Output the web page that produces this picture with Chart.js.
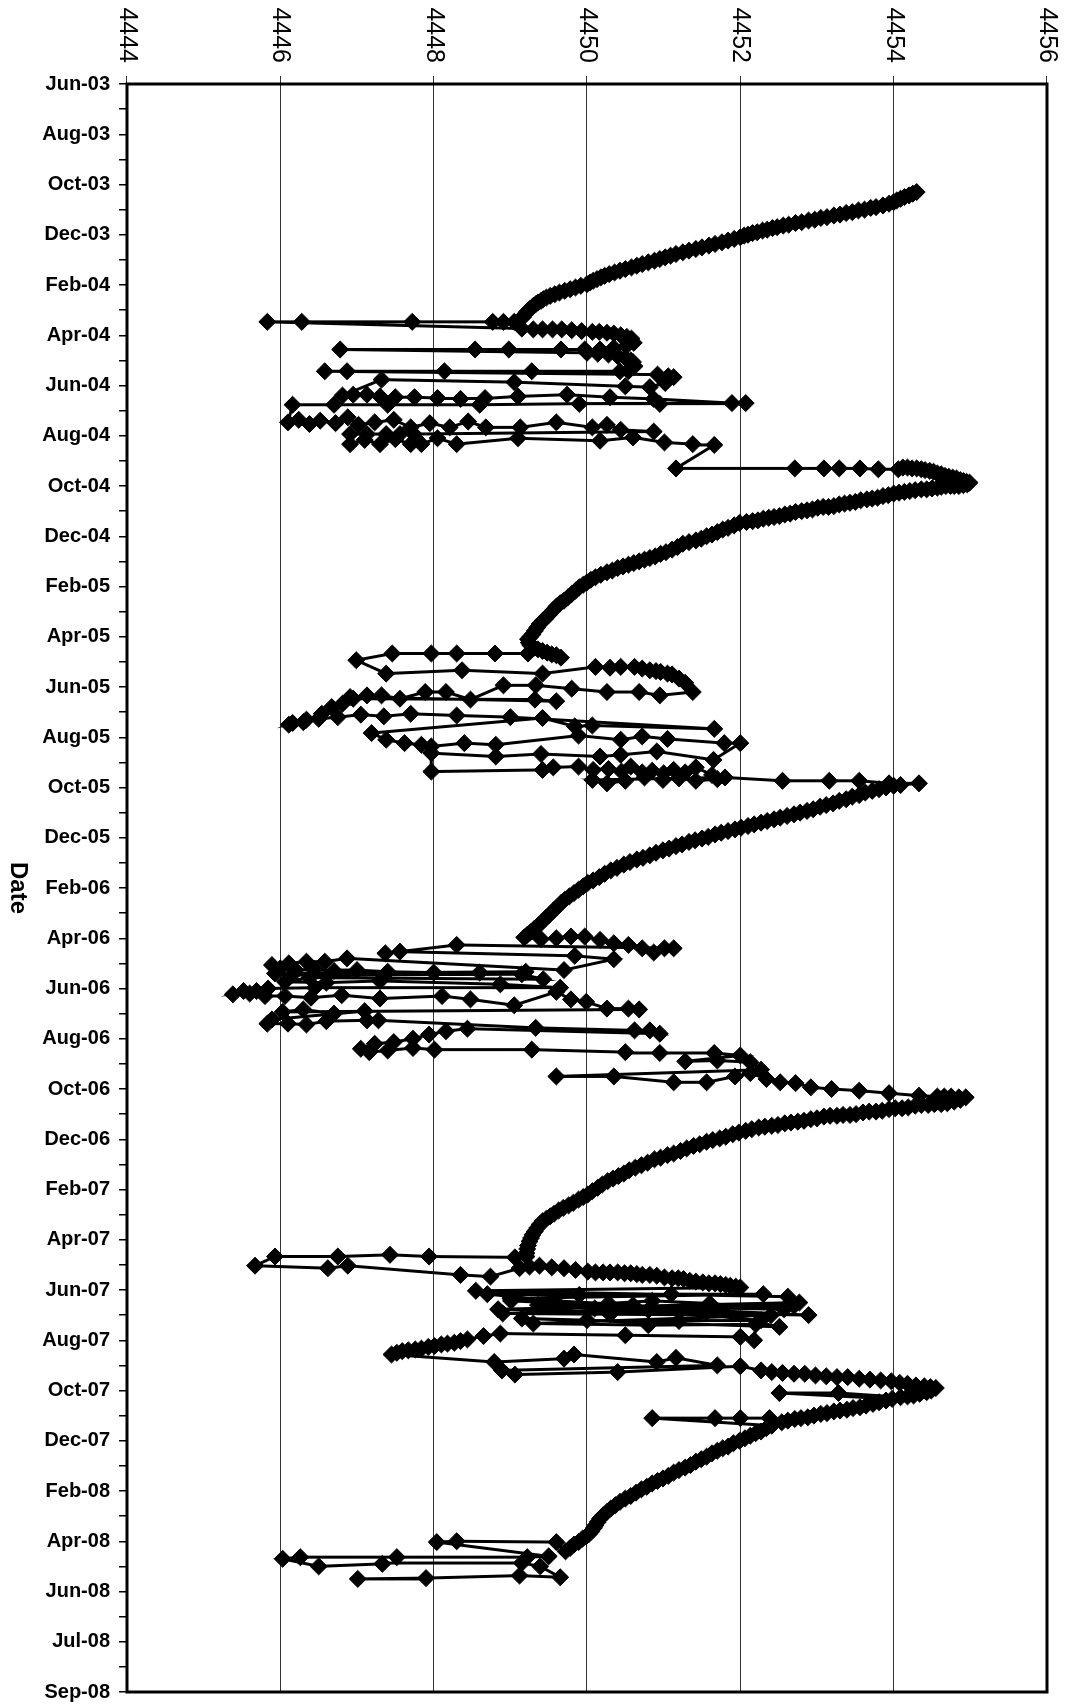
<!DOCTYPE html>
<html>
<head>
<meta charset="utf-8">
<title>Elevation by date</title>
<script src="https://cdn.jsdelivr.net/npm/chart.js"></script>
<style>
  html, body { margin: 0; padding: 0; background: #fff; overflow: hidden; }
  #wrap { position: relative; width: 1066px; height: 1706px; overflow: hidden; }
  /* the chart is laid out landscape and turned a quarter clockwise */
  #elevation-chart {
    position: absolute; left: 0; top: 0;
    width: 1706px; height: 1066px;
    transform-origin: 0 0;
    transform: translate(1066px, 0) rotate(90deg);
  }
</style>
</head>
<body>
<div id="wrap"><canvas id="elevation-chart" width="1706" height="1066"></canvas></div>
<script>
// Date axis: Excel serial days, labels every 60 days from 28 Jun 2003
const axisStartDay = 37800;
const axisEndDay = 39720;
const dateLabels = ['Jun-03', 'Aug-03', 'Oct-03', 'Dec-03', 'Feb-04', 'Apr-04', 'Jun-04', 'Aug-04',
  'Oct-04', 'Dec-04', 'Feb-05', 'Apr-05', 'Jun-05', 'Aug-05', 'Oct-05', 'Dec-05', 'Feb-06', 'Apr-06',
  'Jun-06', 'Aug-06', 'Oct-06', 'Dec-06', 'Feb-07', 'Apr-07', 'Jun-07', 'Aug-07', 'Oct-07', 'Dec-07',
  'Feb-08', 'Apr-08', 'Jun-08', 'Jul-08', 'Sep-08'];
const elevationMin = 4444;
const elevationMax = 4456;

// [elevation, serial day] in recorded order
const fall2003 = [
  [4454.30, 37929], [4454.25, 37931], [4454.20, 37933], [4454.14, 37935], [4454.09, 37937], [4454.04, 37939],
  [4454.00, 37941], [4453.94, 37943], [4453.86, 37945], [4453.77, 37947], [4453.70, 37948], [4453.62, 37950],
  [4453.54, 37951], [4453.46, 37953], [4453.38, 37954], [4453.30, 37956], [4453.22, 37957], [4453.13, 37959],
  [4453.05, 37960], [4452.97, 37962], [4452.89, 37963], [4452.80, 37965], [4452.72, 37966], [4452.63, 37968],
  [4452.56, 37969], [4452.48, 37971], [4452.42, 37972], [4452.35, 37974], [4452.29, 37975], [4452.22, 37977],
  [4452.16, 37978], [4452.10, 37980], [4452.05, 37981], [4452.00, 37983], [4451.92, 37985], [4451.84, 37987],
  [4451.76, 37989], [4451.67, 37991], [4451.59, 37993], [4451.50, 37995], [4451.42, 37997], [4451.33, 37999],
  [4451.25, 38001], [4451.16, 38003], [4451.09, 38005], [4451.02, 38007], [4450.95, 38009], [4450.88, 38011],
  [4450.80, 38013], [4450.72, 38015], [4450.65, 38017], [4450.58, 38019], [4450.50, 38021], [4450.43, 38023],
  [4450.36, 38025], [4450.29, 38027], [4450.23, 38029], [4450.18, 38031], [4450.13, 38033], [4450.08, 38035],
  [4450.04, 38037], [4450.00, 38039], [4449.92, 38041], [4449.85, 38043], [4449.78, 38045], [4449.71, 38047],
  [4449.64, 38049], [4449.58, 38051], [4449.52, 38053], [4449.47, 38055], [4449.43, 38057], [4449.40, 38059],
  [4449.36, 38061], [4449.33, 38063], [4449.30, 38065], [4449.28, 38067], [4449.25, 38069], [4449.23, 38071],
  [4449.21, 38073], [4449.19, 38075], [4449.17, 38078]
];
const spring2004 = [
  [4449.05, 38084], [4448.91, 38084], [4448.77, 38084], [4447.72, 38084], [4446.28, 38084], [4445.83, 38084],
  [4449.15, 38092], [4449.30, 38093], [4449.42, 38093], [4449.55, 38093], [4449.67, 38093], [4449.80, 38094],
  [4449.93, 38095], [4450.07, 38096], [4450.16, 38096], [4450.26, 38097], [4450.35, 38098], [4450.44, 38100],
  [4450.52, 38102], [4450.58, 38104], [4450.61, 38109], [4450.51, 38113], [4450.35, 38115], [4450.17, 38117],
  [4449.97, 38117], [4449.66, 38117], [4448.98, 38117], [4448.54, 38117], [4446.78, 38117],
  [4450.00, 38121], [4450.14, 38122], [4450.28, 38123], [4450.40, 38125], [4450.50, 38127], [4450.57, 38130],
  [4450.60, 38132], [4450.62, 38137], [4450.54, 38143],
  [4450.43, 38143], [4449.28, 38143], [4448.14, 38143], [4446.87, 38143], [4446.58, 38143],
  [4450.92, 38147], [4451.06, 38149], [4451.13, 38150], [4451.02, 38157],
  [4450.82, 38162], [4450.50, 38161], [4449.05, 38156], [4447.32, 38153],
  [4446.81, 38172], [4446.95, 38171], [4447.13, 38171], [4447.30, 38173], [4447.50, 38174], [4447.75, 38174],
  [4448.05, 38175], [4448.35, 38176], [4448.67, 38175], [4449.10, 38173], [4449.74, 38171], [4450.30, 38174],
  [4450.87, 38176], [4451.89, 38181], [4452.07, 38181], [4450.95, 38182], [4449.90, 38182], [4448.60, 38183],
  [4447.40, 38183], [4446.70, 38183], [4446.16, 38183],
  [4446.10, 38204], [4446.24, 38201], [4446.38, 38206], [4446.52, 38202], [4446.72, 38205], [4446.88, 38198],
  [4447.02, 38207], [4447.23, 38204], [4447.48, 38201], [4447.70, 38210], [4447.95, 38205], [4448.21, 38210],
  [4448.45, 38203], [4448.68, 38210], [4449.13, 38210], [4449.60, 38204], [4450.07, 38210], [4450.26, 38207],
  [4450.44, 38213], [4450.87, 38215],
  [4447.74, 38218], [4447.56, 38218], [4447.38, 38218], [4447.13, 38218], [4446.91, 38218],
  [4446.91, 38230], [4447.10, 38225], [4447.30, 38230], [4447.50, 38224], [4447.70, 38230], [4447.84, 38230],
  [4448.05, 38223], [4448.30, 38230], [4449.10, 38223], [4450.17, 38226], [4450.60, 38222], [4451.01, 38228],
  [4451.38, 38230], [4451.66, 38231],
  [4451.16, 38259], [4452.71, 38259], [4453.09, 38259], [4453.29, 38259], [4453.56, 38259], [4453.80, 38260],
  [4454.06, 38260]
];
const fall2004 = [
  [4454.12, 38258], [4454.18, 38258], [4454.24, 38259], [4454.30, 38259], [4454.36, 38260], [4454.41, 38261],
  [4454.47, 38262], [4454.52, 38263], [4454.57, 38265], [4454.62, 38266], [4454.67, 38268], [4454.72, 38269],
  [4454.77, 38270], [4454.82, 38271], [4454.87, 38273], [4454.91, 38274], [4454.95, 38275], [4454.99, 38276],
  [4454.96, 38278], [4454.91, 38279], [4454.85, 38280], [4454.79, 38280], [4454.74, 38280], [4454.68, 38280],
  [4454.62, 38281], [4454.57, 38282], [4454.50, 38283], [4454.43, 38284], [4454.36, 38284], [4454.28, 38285],
  [4454.21, 38286], [4454.14, 38287], [4454.07, 38288], [4454.00, 38289], [4453.93, 38291], [4453.86, 38292],
  [4453.79, 38294], [4453.72, 38295], [4453.65, 38296], [4453.57, 38297], [4453.50, 38299], [4453.43, 38300],
  [4453.36, 38301], [4453.29, 38302], [4453.22, 38304], [4453.15, 38305], [4453.08, 38305], [4453.01, 38306],
  [4452.94, 38308], [4452.87, 38309], [4452.80, 38310], [4452.72, 38311], [4452.65, 38313], [4452.58, 38314],
  [4452.51, 38316], [4452.44, 38317], [4452.37, 38318], [4452.30, 38319], [4452.23, 38321], [4452.16, 38322],
  [4452.08, 38323], [4451.99, 38324], [4451.92, 38327], [4451.84, 38330], [4451.77, 38332], [4451.70, 38335],
  [4451.63, 38338], [4451.56, 38340], [4451.49, 38343], [4451.42, 38345], [4451.33, 38347], [4451.25, 38349],
  [4451.18, 38353], [4451.11, 38356], [4451.03, 38359], [4450.96, 38361], [4450.89, 38364], [4450.82, 38366],
  [4450.75, 38368], [4450.68, 38370], [4450.61, 38372], [4450.54, 38374], [4450.47, 38376], [4450.40, 38378],
  [4450.33, 38381], [4450.26, 38383], [4450.18, 38386], [4450.11, 38389], [4450.05, 38392], [4450.00, 38395],
  [4449.95, 38398], [4449.90, 38401], [4449.85, 38405], [4449.80, 38409], [4449.75, 38413], [4449.70, 38417],
  [4449.65, 38420], [4449.60, 38424], [4449.55, 38429], [4449.50, 38434], [4449.46, 38438], [4449.42, 38441],
  [4449.38, 38445], [4449.35, 38449], [4449.32, 38453], [4449.29, 38457], [4449.26, 38460], [4449.23, 38463],
  [4449.24, 38467], [4449.26, 38470], [4449.31, 38473], [4449.36, 38475], [4449.42, 38477], [4449.48, 38479],
  [4449.54, 38481], [4449.60, 38482], [4449.66, 38485]
];
const spring2005 = [
  [4449.23, 38480], [4448.80, 38480], [4448.30, 38480], [4447.97, 38480], [4447.46, 38480], [4446.99, 38488],
  [4447.38, 38504], [4448.37, 38500], [4449.42, 38504], [4450.11, 38496], [4450.30, 38497], [4450.44, 38496],
  [4450.62, 38496], [4450.72, 38498], [4450.82, 38500], [4450.90, 38501], [4450.96, 38502], [4451.05, 38504],
  [4451.11, 38505], [4451.20, 38510], [4451.28, 38515],
  [4451.38, 38526], [4450.95, 38530], [4450.68, 38526], [4450.26, 38526], [4449.80, 38522], [4449.33, 38518],
  [4448.91, 38518],
  [4448.48, 38535], [4448.16, 38526], [4447.89, 38526], [4447.56, 38534], [4447.32, 38530], [4447.13, 38530],
  [4446.95, 38534], [4449.32, 38535], [4449.60, 38537],
  [4446.91, 38532], [4446.81, 38540], [4446.67, 38544], [4446.54, 38552], [4446.34, 38559], [4446.16, 38563],
  [4446.11, 38565], [4446.30, 38562], [4446.50, 38558], [4446.75, 38556], [4447.05, 38553], [4447.35, 38555],
  [4447.70, 38552], [4448.30, 38554], [4449.00, 38556], [4451.66, 38570], [4450.07, 38566], [4449.84, 38567],
  [4449.42, 38557],
  [4447.19, 38575], [4447.38, 38583], [4447.62, 38587], [4447.84, 38589], [4447.97, 38591], [4448.40, 38587],
  [4448.81, 38589], [4449.89, 38578], [4450.44, 38583], [4450.72, 38579], [4451.05, 38582], [4451.79, 38587],
  [4452.00, 38587],
  [4451.65, 38607], [4450.91, 38597], [4450.44, 38601], [4450.17, 38603], [4449.40, 38600], [4448.81, 38603],
  [4447.97, 38599],
  [4447.97, 38621], [4449.42, 38619], [4449.56, 38616], [4449.89, 38615], [4450.08, 38619], [4450.28, 38618],
  [4450.45, 38621], [4450.57, 38615], [4450.72, 38622], [4450.85, 38620], [4451.00, 38623], [4451.13, 38619],
  [4451.28, 38622], [4451.42, 38616], [4451.63, 38625], [4451.70, 38630], [4451.42, 38632], [4451.20, 38629],
  [4450.99, 38631], [4450.75, 38628], [4450.50, 38632], [4450.26, 38635], [4450.07, 38631], [4451.80, 38628],
  [4452.55, 38632], [4453.16, 38632], [4453.55, 38632], [4453.94, 38635], [4454.33, 38635]
];
const fall2005 = [
  [4454.09, 38637], [4454.00, 38638], [4453.90, 38640], [4453.81, 38642], [4453.72, 38644], [4453.63, 38646],
  [4453.55, 38649], [4453.46, 38651], [4453.38, 38654], [4453.29, 38656], [4453.21, 38659], [4453.12, 38661],
  [4453.04, 38663], [4452.95, 38666], [4452.87, 38668], [4452.78, 38670], [4452.70, 38672], [4452.61, 38674],
  [4452.52, 38676], [4452.44, 38678], [4452.35, 38680], [4452.27, 38682], [4452.18, 38684], [4452.10, 38686],
  [4452.01, 38688], [4451.93, 38690], [4451.84, 38692], [4451.75, 38694], [4451.67, 38696], [4451.58, 38699],
  [4451.50, 38701], [4451.41, 38703], [4451.33, 38705], [4451.24, 38708], [4451.16, 38710], [4451.07, 38713],
  [4450.99, 38715], [4450.90, 38718], [4450.82, 38721], [4450.73, 38724], [4450.65, 38726], [4450.56, 38729],
  [4450.48, 38732], [4450.39, 38736], [4450.31, 38739], [4450.23, 38743], [4450.16, 38747], [4450.08, 38751],
  [4450.01, 38754], [4449.95, 38758], [4449.89, 38762], [4449.83, 38766], [4449.77, 38770], [4449.71, 38774],
  [4449.66, 38778], [4449.61, 38783], [4449.56, 38787], [4449.51, 38792], [4449.46, 38796], [4449.41, 38801],
  [4449.36, 38805], [4449.31, 38809], [4449.26, 38813], [4449.22, 38816], [4449.18, 38819]
];
const spring2006 = [
  [4449.40, 38821], [4449.60, 38820], [4449.79, 38818], [4449.97, 38818], [4450.17, 38822], [4450.35, 38826],
  [4450.54, 38828], [4450.72, 38832], [4450.87, 38837], [4451.01, 38832], [4451.13, 38832], [4448.30, 38828],
  [4447.37, 38838], [4447.56, 38836], [4449.84, 38841], [4450.35, 38845],
  [4449.70, 38858], [4446.87, 38844], [4446.58, 38848], [4446.34, 38848], [4446.11, 38850], [4445.89, 38852],
  [4446.00, 38856], [4446.20, 38858], [4446.45, 38857], [4446.70, 38859], [4447.00, 38858], [4447.40, 38860],
  [4448.00, 38861], [4448.60, 38861], [4449.20, 38860],
  [4445.93, 38862], [4446.15, 38864], [4449.15, 38863], [4449.43, 38869], [4446.38, 38867], [4446.06, 38872],
  [4446.60, 38873], [4447.30, 38871], [4448.87, 38875], [4449.65, 38879], [4446.45, 38879],
  [4445.84, 38880], [4445.69, 38883], [4445.52, 38883], [4445.38, 38887], [4445.60, 38886], [4445.80, 38889],
  [4446.06, 38889], [4446.40, 38891], [4446.80, 38888], [4447.30, 38892], [4448.11, 38889], [4448.48, 38893],
  [4449.05, 38900], [4449.60, 38884], [4449.79, 38893], [4449.99, 38896], [4450.26, 38904], [4450.54, 38904],
  [4450.68, 38905],
  [4446.03, 38908], [4446.30, 38905], [4446.70, 38910], [4447.10, 38907], [4445.89, 38917], [4445.83, 38922],
  [4446.10, 38922], [4446.34, 38923], [4446.60, 38919], [4447.13, 38918], [4447.28, 38918], [4449.33, 38927],
  [4450.62, 38930], [4450.82, 38930], [4450.95, 38934],
  [4448.44, 38928], [4448.16, 38931], [4447.94, 38935], [4447.73, 38940], [4447.48, 38944], [4447.23, 38946],
  [4447.05, 38952], [4447.16, 38956], [4447.40, 38954], [4447.73, 38951], [4448.01, 38953], [4449.28, 38953],
  [4450.50, 38956], [4450.95, 38957], [4451.66, 38957], [4452.00, 38960],
  [4451.28, 38967], [4451.70, 38966], [4452.13, 38968], [4452.27, 38977],
  [4449.60, 38985], [4450.35, 38985], [4451.13, 38992], [4451.56, 38992], [4451.93, 38985], [4452.13, 38981],
  [4452.34, 38988], [4452.52, 38992], [4452.72, 38993], [4452.92, 38998], [4453.19, 39000], [4453.55, 39002],
  [4453.94, 39005], [4454.33, 39008]
];
const fall2006 = [
  [4454.57, 39009], [4454.66, 39009], [4454.75, 39009], [4454.85, 39010], [4454.94, 39010], [4454.87, 39013],
  [4454.79, 39015], [4454.70, 39017], [4454.62, 39018], [4454.53, 39018], [4454.45, 39019], [4454.36, 39019],
  [4454.28, 39020], [4454.19, 39022], [4454.11, 39023], [4454.02, 39023], [4453.94, 39024], [4453.85, 39026],
  [4453.77, 39027], [4453.68, 39027], [4453.60, 39028], [4453.51, 39030], [4453.43, 39031], [4453.34, 39031],
  [4453.26, 39032], [4453.17, 39032], [4453.09, 39033], [4453.00, 39035], [4452.92, 39036], [4452.83, 39038],
  [4452.75, 39039], [4452.66, 39040], [4452.58, 39041], [4452.49, 39043], [4452.41, 39044], [4452.32, 39045],
  [4452.24, 39046], [4452.15, 39048], [4452.07, 39050], [4451.98, 39052], [4451.90, 39054], [4451.81, 39057],
  [4451.73, 39059], [4451.64, 39061], [4451.56, 39063], [4451.47, 39066], [4451.39, 39068], [4451.30, 39071],
  [4451.22, 39074], [4451.13, 39077], [4451.05, 39079], [4450.96, 39082], [4450.88, 39084], [4450.79, 39088],
  [4450.71, 39091], [4450.63, 39094], [4450.55, 39097], [4450.48, 39101], [4450.41, 39104], [4450.34, 39107],
  [4450.27, 39110], [4450.20, 39114], [4450.14, 39118], [4450.07, 39122], [4450.01, 39126], [4449.95, 39129],
  [4449.89, 39132], [4449.82, 39136], [4449.76, 39139], [4449.69, 39142], [4449.63, 39145], [4449.57, 39149],
  [4449.52, 39152], [4449.47, 39155], [4449.42, 39158], [4449.38, 39162], [4449.35, 39166], [4449.32, 39170],
  [4449.29, 39174], [4449.27, 39178], [4449.25, 39182], [4449.23, 39187], [4449.22, 39191], [4449.21, 39196],
  [4449.21, 39200]
];
const spring2007 = [
  [4449.06, 39201], [4447.94, 39200], [4447.43, 39198], [4446.75, 39200], [4445.93, 39200],
  [4445.67, 39211], [4446.62, 39214], [4446.88, 39211], [4448.35, 39222], [4448.74, 39224], [4449.12, 39214],
  [4449.25, 39212], [4449.38, 39211], [4449.54, 39213], [4449.70, 39214], [4449.85, 39216], [4450.01, 39218],
  [4450.11, 39219], [4450.21, 39219], [4450.30, 39219], [4450.40, 39219], [4450.49, 39220], [4450.57, 39220],
  [4450.65, 39221], [4450.72, 39222], [4450.82, 39222], [4450.91, 39223], [4451.01, 39225], [4451.11, 39226],
  [4451.19, 39226], [4451.26, 39227], [4451.34, 39229], [4451.42, 39230], [4451.51, 39231], [4451.59, 39232],
  [4451.67, 39232], [4451.74, 39233], [4451.81, 39234], [4451.87, 39235], [4451.94, 39236], [4452.00, 39237],
  [4448.55, 39241],
  [4452.62, 39248], [4452.77, 39255], [4448.84, 39263], [4452.89, 39270], [4449.01, 39253], [4449.60, 39255],
  [4450.28, 39256], [4450.85, 39253], [4451.60, 39256], [4452.57, 39263], [4449.36, 39258], [4450.10, 39262],
  [4450.80, 39264], [4451.56, 39266], [4452.51, 39284], [4449.15, 39274], [4450.00, 39276], [4451.20, 39277],
  [4452.27, 39276], [4448.70, 39245], [4449.90, 39246], [4451.10, 39245], [4452.30, 39245], [4449.00, 39250],
  [4450.60, 39258], [4452.70, 39259], [4448.90, 39268], [4450.30, 39269], [4452.40, 39270], [4449.30, 39280],
  [4450.80, 39282], [4452.20, 39281],
  [4452.18, 39300], [4452.00, 39296], [4450.50, 39294], [4448.87, 39292], [4448.65, 39295], [4448.44, 39299],
  [4448.35, 39301], [4448.27, 39303], [4448.18, 39304], [4448.10, 39305], [4448.01, 39307], [4447.93, 39308],
  [4447.84, 39310], [4447.76, 39311], [4447.67, 39312], [4447.59, 39313], [4447.52, 39315], [4447.45, 39317],
  [4448.79, 39326], [4449.70, 39322], [4449.83, 39317], [4450.91, 39326], [4451.16, 39321], [4451.70, 39330],
  [4448.89, 39336], [4449.06, 39341], [4450.40, 39338], [4452.00, 39331],
  [4452.27, 39336], [4452.41, 39338], [4452.55, 39339], [4452.70, 39340], [4452.84, 39340], [4452.98, 39342],
  [4453.12, 39343], [4453.26, 39344], [4453.40, 39344], [4453.55, 39346], [4453.69, 39347], [4453.83, 39348],
  [4453.97, 39349], [4454.08, 39351], [4454.18, 39352], [4454.29, 39354], [4454.40, 39355], [4454.48, 39356],
  [4454.55, 39357]
];
const fall2007 = [
  [4454.49, 39360], [4454.43, 39362], [4454.34, 39364], [4454.26, 39366], [4454.18, 39367], [4454.09, 39368],
  [4453.28, 39363], [4452.51, 39363],
  [4453.98, 39370], [4453.90, 39372], [4453.81, 39374], [4453.73, 39376], [4453.64, 39378], [4453.56, 39380],
  [4453.47, 39381], [4453.39, 39383], [4453.30, 39384], [4453.22, 39385], [4453.13, 39387], [4453.05, 39388],
  [4452.96, 39390], [4452.88, 39392], [4452.79, 39393], [4452.71, 39394], [4452.62, 39396], [4452.54, 39398],
  [4452.38, 39393], [4452.00, 39393], [4451.67, 39393], [4450.85, 39393],
  [4452.41, 39402], [4452.34, 39405], [4452.27, 39409], [4452.20, 39411], [4452.13, 39414], [4452.06, 39417],
  [4451.99, 39420], [4451.91, 39423], [4451.84, 39427], [4451.77, 39429], [4451.70, 39432], [4451.63, 39435],
  [4451.56, 39439], [4451.49, 39442], [4451.42, 39445], [4451.35, 39449], [4451.28, 39452], [4451.20, 39455],
  [4451.13, 39458], [4451.06, 39462], [4450.99, 39465], [4450.92, 39468], [4450.85, 39471], [4450.78, 39475],
  [4450.71, 39478], [4450.64, 39482], [4450.57, 39486], [4450.50, 39489], [4450.43, 39493], [4450.37, 39497],
  [4450.31, 39501], [4450.26, 39505], [4450.21, 39509], [4450.17, 39513], [4450.14, 39517], [4450.11, 39521],
  [4450.09, 39524], [4450.06, 39528], [4450.03, 39531], [4449.99, 39534], [4449.94, 39537], [4449.89, 39541],
  [4449.83, 39544], [4449.78, 39548], [4449.72, 39552]
];
const spring2008 = [
  [4449.60, 39541], [4448.30, 39540], [4448.04, 39541], [4449.50, 39558], [4449.22, 39559], [4447.52, 39559],
  [4446.26, 39559], [4446.03, 39561], [4446.50, 39570], [4447.33, 39567], [4449.15, 39566], [4449.39, 39570],
  [4449.65, 39583], [4449.12, 39581], [4447.90, 39584], [4447.01, 39585]
];

const readings = [fall2003, spring2004, fall2004, spring2005, fall2005, spring2006,
  fall2006, spring2007, fall2007, spring2008];
const points = readings.flat().map(([level, day]) => ({ x: day, y: level }));

// plot frame on all four sides
const framePlugin = {
  id: 'frame',
  afterDatasetsDraw(chart) {
    const { ctx, chartArea } = chart;
    ctx.save();
    ctx.strokeStyle = '#000';
    ctx.lineWidth = 3;
    ctx.strokeRect(chartArea.left, chartArea.top, chartArea.right - chartArea.left, chartArea.bottom - chartArea.top);
    ctx.restore();
  }
};

const canvas = document.getElementById('elevation-chart');
new Chart(canvas.getContext('2d'), {
  type: 'scatter',
  data: {
    datasets: [{
      data: points,
      showLine: true,
      borderColor: '#000',
      borderWidth: 3,
      tension: 0,
      pointStyle: 'rectRot',
      pointRadius: 8.5,
      pointBorderWidth: 1,
      pointBackgroundColor: '#000',
      pointBorderColor: '#000'
    }]
  },
  options: {
    responsive: false,
    animation: false,
    devicePixelRatio: 1,
    layout: { padding: { top: 19, right: 14, left: 0, bottom: 0 } },
    plugins: { legend: { display: false }, tooltip: { enabled: false } },
    scales: {
      x: {
        type: 'linear',
        position: 'bottom',
        min: axisStartDay,
        max: axisEndDay,
        border: { display: false },
        grid: { drawOnChartArea: false, drawTicks: true, tickLength: 8, color: '#000', lineWidth: 1.5 },
        ticks: {
          stepSize: 30,
          autoSkip: false,
          minRotation: 90,
          maxRotation: 90,
          padding: 9,
          color: '#000',
          font: { family: '"Liberation Sans", Arial, sans-serif', size: 20, weight: 'bold' },
          callback: function(value) {
            const k = (value - axisStartDay) / 60;
            if (Math.abs(k - Math.round(k)) > 1e-6) return '';
            return dateLabels[Math.round(k)] || '';
          }
        },
        title: {
          display: true,
          text: 'Date',
          color: '#000',
          padding: { top: 0, bottom: 3 },
          font: { family: '"Liberation Sans", Arial, sans-serif', size: 24, weight: 'bold' }
        },
        afterFit: function(scale) {
          scale.height = 127;
          scale.paddingLeft = 0;
          scale.paddingRight = 0;
        }
      },
      y: {
        min: elevationMin,
        max: elevationMax,
        border: { display: false },
        grid: { color: '#333', lineWidth: 1, tickLength: 8 },
        ticks: {
          stepSize: 2,
          padding: 13,
          color: '#000',
          font: { family: '"Liberation Sans", Arial, sans-serif', size: 25 },
          callback: function(value) { return String(value); }
        },
        afterFit: function(scale) {
          scale.width = 84;
          scale.paddingTop = 0;
          scale.paddingBottom = 0;
        }
      }
    }
  },
  plugins: [framePlugin]
});
</script>
</body>
</html>
